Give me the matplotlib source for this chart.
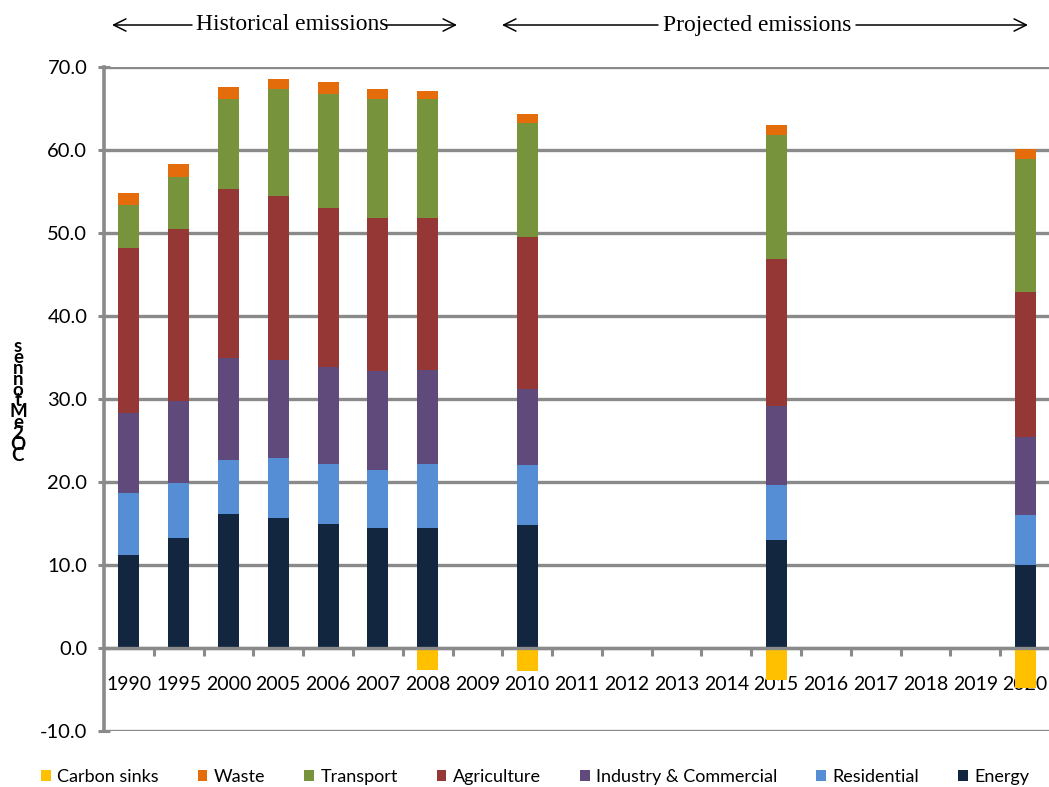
import numpy as np
import matplotlib
matplotlib.use("Agg")
import matplotlib.pyplot as plt
from matplotlib.patches import FancyArrowPatch
from matplotlib.ticker import MultipleLocator, FixedLocator, FormatStrFormatter

plt.rcParams['font.family'] = ['Lato', 'DejaVu Sans']

# Category axis (every year slot shown on the axis)
categories = ["1990", "1995", "2000", "2005", "2006", "2007", "2008", "2009",
              "2010", "2011", "2012", "2013", "2014", "2015", "2016", "2017",
              "2018", "2019", "2020"]

# Years that carry a stacked bar
bar_years = ["1990", "1995", "2000", "2005", "2006", "2007", "2008",
             "2010", "2015", "2020"]

# Emissions by sector, Mt CO2e
energy       = [11.2, 13.3, 16.1, 15.7, 14.9, 14.5, 14.5, 14.8, 13.0, 10.0]
residential  = [7.5, 6.6, 6.5, 7.2, 7.3, 6.9, 7.7, 7.2, 6.6, 6.0]
industry     = [9.6, 9.8, 12.3, 11.8, 11.6, 12.0, 11.3, 9.2, 9.5, 9.4]
agriculture  = [19.9, 20.8, 20.4, 19.7, 19.2, 18.4, 18.3, 18.3, 17.8, 17.5]
transport    = [5.2, 6.2, 10.8, 12.9, 13.8, 14.3, 14.3, 13.7, 14.9, 16.0]
waste        = [1.4, 1.6, 1.5, 1.2, 1.4, 1.2, 1.0, 1.1, 1.2, 1.2]
carbon_sinks = [0.0, 0.0, 0.0, 0.0, 0.0, 0.0, -2.7, -2.8, -3.8, -4.8]

series = [
    ("Energy", energy, "#12263f"),
    ("Residential", residential, "#558ed5"),
    ("Industry & Commercial", industry, "#604a7b"),
    ("Agriculture", agriculture, "#953735"),
    ("Transport", transport, "#77933c"),
    ("Waste", waste, "#e46c0a"),
]
sink_color = "#ffc000"
grid_color = "#8a8a8a"

W, H = 1049, 787
fig = plt.figure(figsize=(W / 100, H / 100), dpi=100)
ax = fig.add_axes([104 / W, 1 - 731 / H, (1050 - 104) / W, (731 - 67) / H])

x = np.array([categories.index(y) for y in bar_years])
bw = 0.42
bottom = np.zeros(len(bar_years))
handles = {}
for name, vals, col in series:
    vals = np.array(vals)
    handles[name] = ax.bar(x, vals, bw, bottom=bottom, color=col,
                           linewidth=0, zorder=3)
    bottom += vals
handles["Carbon sinks"] = ax.bar(x, carbon_sinks, bw, color=sink_color,
                                 linewidth=0, zorder=3)

ax.set_xlim(-0.5, len(categories) - 0.5)
ax.set_ylim(-10, 70)

# y axis
ax.yaxis.set_major_locator(MultipleLocator(10))
ax.yaxis.set_major_formatter(FormatStrFormatter("%.1f"))
ax.tick_params(axis='y', direction='inout', length=8, width=2.2,
               color=grid_color, labelsize=14.5, pad=8)
ax.yaxis.grid(True, color=grid_color, linewidth=2.4, zorder=0)
ax.set_axisbelow(True)
fig.canvas.draw()
ax.get_ygridlines()[0].set_visible(False)

# x axis crossing at zero
ax.spines['bottom'].set_position(('data', 0))
ax.spines['bottom'].set_color(grid_color)
ax.spines['bottom'].set_linewidth(2.4)
ax.spines['bottom'].set_zorder(4)
ax.spines['left'].set_color(grid_color)
ax.spines['left'].set_linewidth(2.6)
ax.spines['top'].set_visible(False)
ax.spines['right'].set_visible(False)
ax.xaxis.set_major_locator(FixedLocator(range(len(categories))))
ax.set_xticklabels(categories)
ax.xaxis.set_minor_locator(FixedLocator(np.arange(len(categories) - 1) + 0.5))
ax.tick_params(axis='x', which='major', length=0, labelsize=14, pad=20)
ax.tick_params(axis='x', which='minor', length=6, width=2.2,
               color=grid_color, direction='out')

# stacked vertical axis title
def fx(px):
    return px / W

def fy(py):
    return 1 - py / H

label_chars = ["s", "e", "n", "n", "o", "t", "M", "e", "2", "O", "C"]
fig.text(fx(18), fy(401), "\n".join(label_chars), ha='center', va='center',
         fontsize=13.5, fontweight='bold', linespacing=0.56)

# header arrows
serif = ['Liberation Serif', 'DejaVu Serif']
arrow_kw = dict(arrowstyle='->', lw=1.1, color='black', mutation_scale=22,
                shrinkA=0, shrinkB=0)
for text, cx, l0, l1, r0, r1 in [
        ("Historical emissions", 292, 192, 112, 385, 457),
        ("Projected emissions", 757, 658, 502, 856, 1028)]:
    fig.text(fx(cx), fy(25), text, ha='center', va='center',
             fontsize=17, family=serif)
    fig.add_artist(FancyArrowPatch((fx(l0), fy(25)), (fx(l1), fy(25)),
                                   transform=fig.transFigure, **arrow_kw))
    fig.add_artist(FancyArrowPatch((fx(r0), fy(25)), (fx(r1), fy(25)),
                                   transform=fig.transFigure, **arrow_kw))

order = ["Carbon sinks", "Waste", "Transport", "Agriculture",
         "Industry & Commercial", "Residential", "Energy"]
fig.legend([handles[k] for k in order], order, loc='center',
           bbox_to_anchor=(fx(535), fy(777)), ncol=7, frameon=False,
           fontsize=13, handlelength=0.55, handleheight=0.6,
           handletextpad=0.35, columnspacing=2.15)

fig.savefig("out.png", dpi=100)
